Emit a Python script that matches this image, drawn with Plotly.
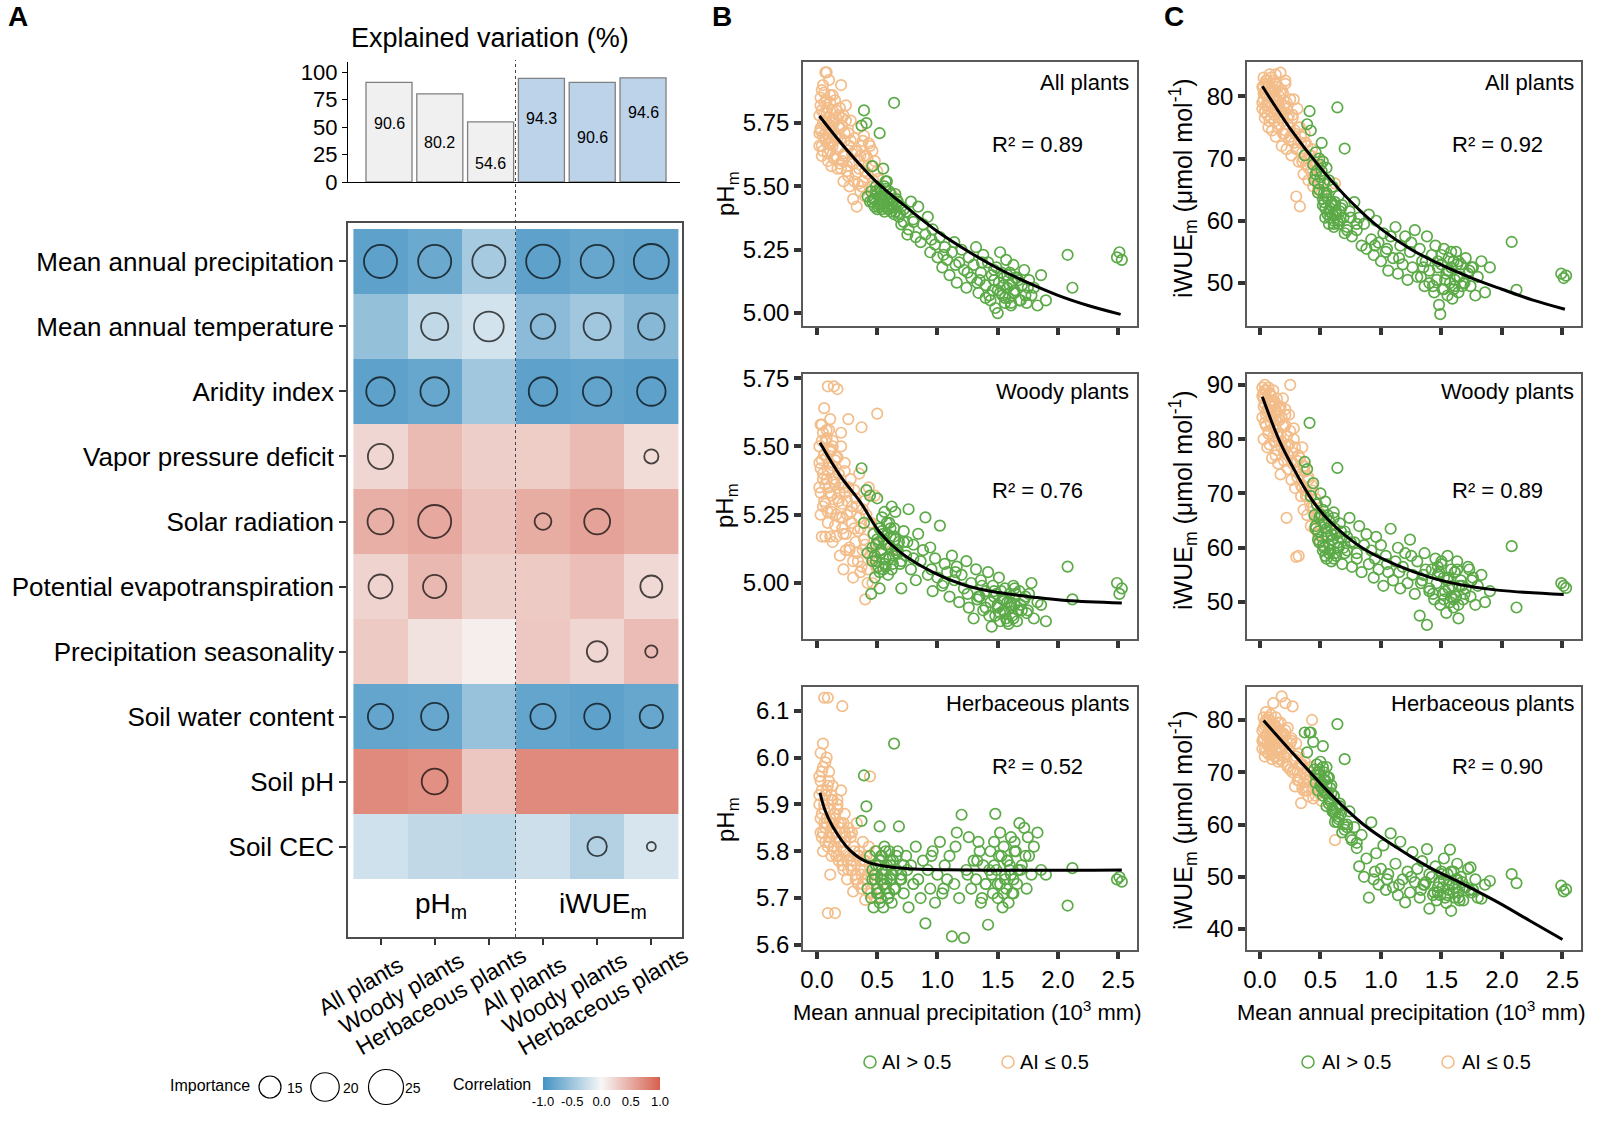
import plotly.graph_objects as go

W, H = 1600, 1121
FONT = "Liberation Sans, Arial, Helvetica, sans-serif"


def fx(p):
    return p / W


def fy(p):
    return 1 - p / H


# ======================= Panel A data =======================
group_labels = ["All plants", "Woody plants", "Herbaceous plants",
                "All plants", "Woody plants", "Herbaceous plants"]
explained_variation = [90.6, 80.2, 54.6, 94.3, 90.6, 94.6]
predictors = ["Mean annual precipitation", "Mean annual temperature", "Aridity index",
              "Vapor pressure deficit", "Solar radiation", "Potential evapotranspiration",
              "Precipitation seasonality", "Soil water content", "Soil pH", "Soil CEC"]
correlation = [
    [-0.85, -0.78, -0.45, -0.85, -0.80, -0.83],
    [-0.55, -0.30, -0.20, -0.60, -0.48, -0.62],
    [-0.85, -0.80, -0.48, -0.85, -0.83, -0.85],
    [0.22, 0.40, 0.27, 0.28, 0.40, 0.18],
    [0.48, 0.52, 0.34, 0.50, 0.56, 0.50],
    [0.24, 0.42, 0.26, 0.30, 0.37, 0.20],
    [0.30, 0.14, 0.06, 0.31, 0.22, 0.39],
    [-0.82, -0.80, -0.53, -0.82, -0.85, -0.80],
    [0.72, 0.68, 0.32, 0.72, 0.72, 0.72],
    [-0.22, -0.30, -0.32, -0.24, -0.38, -0.18],
]
importance = [
    [23.5, 23.5, 23.5, 24.0, 23.5, 25.0],
    [None, 19.0, 21.0, 17.0, 19.0, 18.5],
    [20.0, 20.0, None, 20.0, 20.0, 20.0],
    [17.5, None, None, None, None, 9.0],
    [18.0, 23.5, None, 11.0, 18.0, None],
    [16.5, 16.0, None, None, None, 15.0],
    [None, None, None, None, 14.0, 7.5],
    [17.5, 19.0, None, 17.5, 18.0, 16.0],
    [None, 18.0, None, None, None, None],
    [None, None, None, None, 13.0, 5.0],
]
importance_legend = [15, 20, 25]
corr_ticks = [-1.0, -0.5, 0.0, 0.5, 1.0]
corr_ticktext = ["-1.0", "-0.5", "0.0", "0.5", "1.0"]

# ======================= Panels B/C data =======================
# Mean annual precipitation (10^3 mm), sites with AI <= 0.5
orange_map = [
    0.02, 0.02, 0.03, 0.03, 0.04, 0.04, 0.05, 0.05, 0.06, 0.06,
    0.07, 0.07, 0.08, 0.08, 0.09, 0.09, 0.10, 0.10, 0.11, 0.11,
    0.12, 0.12, 0.13, 0.13, 0.14, 0.15, 0.15, 0.16, 0.17, 0.18,
    0.18, 0.19, 0.20, 0.21, 0.22, 0.22, 0.23, 0.24, 0.25, 0.26,
    0.27, 0.28, 0.29, 0.30, 0.31, 0.32, 0.33, 0.34, 0.35, 0.36,
    0.37, 0.38, 0.39, 0.40, 0.41, 0.42, 0.43, 0.44, 0.45, 0.46,
    0.47, 0.48, 0.49, 0.50, 0.51, 0.62,
    0.03, 0.04, 0.05, 0.06, 0.07, 0.08, 0.09, 0.10, 0.11, 0.12,
    0.13, 0.14, 0.16, 0.17, 0.19, 0.20, 0.21, 0.23, 0.24, 0.26,
    0.28, 0.30, 0.32, 0.34, 0.36, 0.38, 0.40, 0.42, 0.44, 0.46,
    0.02, 0.03, 0.04, 0.05, 0.06, 0.07, 0.08, 0.09, 0.10, 0.11,
    0.12, 0.13, 0.14, 0.15, 0.16, 0.17, 0.18, 0.19, 0.20, 0.21,
    0.22, 0.23, 0.25, 0.27, 0.29, 0.31, 0.33, 0.35, 0.37, 0.39]
# Mean annual precipitation (10^3 mm), sites with AI > 0.5
green_map = [
    0.37, 0.39, 0.41, 0.42, 0.44, 0.45, 0.46, 0.47, 0.48, 0.49,
    0.50, 0.51, 0.52, 0.52, 0.53, 0.54, 0.55, 0.55, 0.56, 0.57,
    0.58, 0.59, 0.60, 0.61, 0.62, 0.63, 0.64, 0.65, 0.66, 0.68,
    0.70, 0.72, 0.74, 0.76, 0.78, 0.80, 0.82, 0.84, 0.86, 0.88,
    0.90, 0.92, 0.94, 0.96, 0.98, 1.00, 1.02, 1.04, 1.06, 1.08,
    1.10, 1.12, 1.14, 1.16, 1.18, 1.20, 1.22, 1.24, 1.26, 1.28,
    1.30, 1.32, 1.34, 1.36, 1.38, 1.40, 1.42, 1.44, 1.45, 1.46,
    1.48, 1.49, 1.50, 1.51, 1.52, 1.54, 1.55, 1.56, 1.57, 1.58,
    1.59, 1.60, 1.61, 1.62, 1.63, 1.64, 1.66, 1.68, 1.70, 1.72,
    1.74, 1.76, 1.78, 1.80, 1.83, 1.86, 1.90, 2.08, 2.12, 2.49,
    2.51, 2.53,
    0.48, 0.50, 0.52, 0.53, 0.54, 0.56, 0.57, 0.58, 0.60, 0.61, 0.62, 0.64, 0.66, 0.70, 0.75,
    1.35, 1.40, 1.47, 1.52, 1.55, 1.58, 1.61, 1.64, 1.67, 1.73,
    0.46, 0.49, 0.51, 0.53, 0.55, 0.57, 0.59, 0.61, 0.63, 0.65, 0.67, 0.69, 0.72, 0.80,
    0.95, 1.05, 1.15, 1.25, 1.33, 1.37, 1.43, 1.47, 1.50, 1.53, 1.56, 1.60, 1.63, 1.65, 1.69, 1.75]

# pHm, all plants
ph_all_orange = [
    5.78, 5.66, 5.85, 5.72, 5.80, 5.62, 5.90, 5.70, 5.76, 5.83,
    5.95, 5.68, 5.74, 5.95, 5.60, 5.81, 5.69, 5.77, 5.64, 5.86,
    5.72, 5.58, 5.80, 5.66, 5.75, 5.62, 5.84, 5.70, 5.57, 5.78,
    5.65, 5.73, 5.90, 5.60, 5.78, 5.52, 5.68, 5.82, 5.58, 5.71,
    5.50, 5.76, 5.63, 5.45, 5.69, 5.55, 5.42, 5.73, 5.60, 5.48,
    5.66, 5.52, 5.70, 5.46, 5.62, 5.55, 5.67, 5.50, 5.58, 5.64,
    5.52, 5.60, 5.48, 5.56, 5.53, 5.47,
    5.73, 5.88, 5.64, 5.79, 5.71, 5.84, 5.67, 5.92, 5.74, 5.68,
    5.86, 5.61, 5.77, 5.69, 5.81, 5.57, 5.74, 5.63, 5.76, 5.54,
    5.68, 5.59, 5.64, 5.51, 5.62, 5.68, 5.56, 5.61, 5.66, 5.50,
    5.71, 5.82, 5.66, 5.75, 5.87, 5.69, 5.79, 5.63, 5.73, 5.83,
    5.67, 5.76, 5.61, 5.70, 5.80, 5.65, 5.74, 5.59, 5.69, 5.77,
    5.62, 5.71, 5.56, 5.66, 5.60, 5.52, 5.64, 5.57, 5.50, 5.62]
ph_all_green = [
    5.74, 5.80, 5.75, 5.46, 5.44, 5.48, 5.58, 5.45, 5.42, 5.50,
    5.47, 5.43, 5.71, 5.45, 5.48, 5.41, 5.57, 5.44, 5.50, 5.46,
    5.52, 5.42, 5.48, 5.45, 5.40, 5.44, 5.83, 5.47, 5.43, 5.38,
    5.42, 5.36, 5.40, 5.33, 5.44, 5.37, 5.30, 5.42, 5.28, 5.35,
    5.31, 5.38, 5.24, 5.33, 5.27, 5.22, 5.30, 5.18, 5.26, 5.21,
    5.15, 5.24, 5.28, 5.12, 5.20, 5.25, 5.17, 5.10, 5.22, 5.14,
    5.19, 5.26, 5.08, 5.16, 5.23, 5.11, 5.20, 5.05, 5.15, 5.09,
    5.02, 5.18, 5.00, 5.12, 5.24, 5.07, 5.14, 5.04, 5.21, 5.10,
    5.06, 5.16, 5.03, 5.12, 5.19, 5.08, 5.14, 5.05, 5.11, 5.17,
    5.04, 5.13, 5.07, 5.10, 5.03, 5.15, 5.05, 5.23, 5.10, 5.22,
    5.24, 5.21,
    5.45, 5.41, 5.49, 5.43, 5.46, 5.40, 5.52, 5.44, 5.41, 5.47, 5.43, 5.39, 5.45, 5.35, 5.31,
    5.13, 5.06, 5.17, 5.08, 5.11, 5.15, 5.04, 5.09, 5.13, 5.07,
    5.44, 5.48, 5.42, 5.46, 5.43, 5.49, 5.41, 5.45, 5.42, 5.40, 5.44, 5.39, 5.41, 5.36,
    5.29, 5.23, 5.19, 5.16, 5.12, 5.20, 5.07, 5.13, 5.09, 5.16, 5.06, 5.11, 5.08, 5.14, 5.05, 5.10]

# iWUEm, all plants
wue_all_orange = [
    81.5, 78.0, 83.0, 79.5, 80.5, 76.5, 82.5, 78.5, 80.0, 77.0,
    82.0, 75.0, 79.0, 83.5, 77.5, 81.0, 74.5, 80.5, 78.0, 82.5,
    76.0, 80.0, 83.5, 73.5, 79.0, 81.5, 75.0, 78.5, 83.8, 72.0,
    77.5, 80.5, 74.0, 82.0, 71.5, 78.0, 75.5, 73.0, 79.5, 70.5,
    76.5, 72.5, 74.5, 63.9, 78.0, 69.5, 62.3, 73.5, 71.0, 67.5,
    74.0, 69.0, 72.0, 66.5, 70.5, 68.0, 71.5, 65.5, 69.5, 67.0,
    70.0, 65.0, 68.5, 66.0, 64.5, 66.0,
    80.5, 77.5, 82.0, 79.0, 81.5, 76.0, 83.0, 78.5, 80.0, 77.0,
    81.0, 79.5, 76.5, 80.5, 74.0, 78.5, 82.5, 75.5, 77.0, 73.0,
    79.5, 71.5, 75.0, 72.5, 70.0, 72.5, 68.5, 70.5, 67.0, 69.0,
    79.0, 81.5, 77.5, 80.5, 82.5, 78.5, 80.0, 76.5, 81.0, 79.5,
    77.0, 82.0, 78.0, 75.5, 80.0, 77.5, 81.0, 76.0, 78.5, 74.5,
    79.0, 76.5, 73.5, 77.0, 74.0, 71.5, 75.0, 69.5, 72.5, 70.0]
wue_all_green = [
    70.5, 75.5, 77.6, 74.5, 69.0, 66.5, 71.0, 68.0, 64.5, 70.0,
    67.0, 72.5, 63.5, 69.5, 66.0, 62.0, 68.5, 64.0, 61.0, 66.5,
    60.5, 63.0, 65.5, 59.5, 62.5, 61.0, 78.2, 64.0, 60.0, 62.5,
    71.6, 59.0, 61.5, 57.5, 63.0, 58.5, 60.5, 56.0, 59.5, 55.5,
    61.0, 57.0, 54.5, 60.0, 56.5, 53.5, 58.0, 55.0, 52.0, 57.5,
    54.0, 59.0, 51.5, 56.0, 53.0, 57.5, 50.5, 55.0, 52.5, 58.5,
    51.0, 55.5, 53.5, 49.5, 57.5, 52.0, 54.5, 48.5, 56.0, 50.5,
    46.5, 45.0, 53.0, 49.0, 55.5, 51.5, 48.0, 54.0, 50.0, 52.5,
    47.5, 53.5, 49.5, 55.0, 51.0, 48.5, 53.0, 50.0, 54.0, 51.5,
    49.5, 52.5, 48.0, 51.0, 53.5, 48.5, 52.5, 56.6, 48.9, 51.5,
    50.8, 51.2,
    66.0, 69.0, 62.5, 64.5, 60.5, 63.5, 59.5, 62.0, 61.0, 59.0, 63.0, 60.0, 61.5, 58.0, 60.5,
    52.5, 50.0, 53.5, 49.0, 52.0, 55.0, 50.5, 53.5, 49.5, 52.0,
    67.5, 65.0, 68.0, 63.0, 64.5, 61.5, 62.5, 60.0, 61.5, 59.5, 62.0, 60.5, 58.5, 59.5,
    56.0, 55.5, 54.0, 56.5, 51.0, 53.5, 49.5, 52.5, 54.5, 50.5, 52.0, 49.0, 53.0, 51.0, 50.0, 52.5]

# pHm, woody plants
ph_woody_orange = [
    5.50, 5.35, 5.58, 5.25, 5.45, 5.17, 5.55, 5.40, 5.64, 5.30,
    5.52, 5.17, 5.46, 5.38, 5.72, 5.22, 5.56, 5.33, 5.48, 5.17,
    5.42, 5.27, 5.52, 5.15, 5.72, 5.36, 5.45, 5.17, 5.71, 5.30,
    5.40, 5.10, 5.50, 5.24, 5.35, 5.05, 5.44, 5.18, 5.30, 5.60,
    5.12, 5.38, 5.22, 5.02, 5.34, 5.15, 5.28, 5.08, 5.40, 5.20,
    5.57, 5.12, 5.30, 4.94, 5.25, 5.05, 5.35, 5.10, 5.22, 5.00,
    5.18, 5.32, 5.06, 5.62, 5.14, 5.12,
    5.42, 5.58, 5.28, 5.47, 5.36, 5.53, 5.26, 5.44, 5.60, 5.32,
    5.50, 5.38, 5.25, 5.46, 5.33, 5.55, 5.20, 5.41, 5.12, 5.35,
    5.26, 5.08, 5.31, 5.19, 5.04, 5.27, 5.14, 5.00, 5.22, 5.09,
    5.44, 5.33, 5.52, 5.38, 5.47, 5.29, 5.56, 5.41, 5.35, 5.49,
    5.26, 5.43, 5.37, 5.21, 5.46, 5.31, 5.40, 5.24, 5.36, 5.29,
    5.18, 5.33, 5.25, 5.13, 5.28, 5.20, 5.11, 5.24, 5.06, 5.16]
ph_woody_green = [
    5.42, 5.22, 5.34, 5.11, 5.32, 4.96, 5.08, 5.18, 5.02, 5.14,
    5.31, 5.06, 5.20, 4.98, 5.12, 5.24, 5.05, 5.16, 5.26, 5.09,
    5.18, 5.03, 5.22, 5.13, 5.28, 5.07, 5.17, 5.26, 5.11, 5.15,
    4.98, 5.19, 5.10, 5.27, 5.05, 5.14, 5.01, 5.18, 5.08, 5.12,
    5.24, 5.03, 5.13, 4.97, 5.09, 5.02, 5.21, 4.99, 5.07, 5.04,
    4.95, 5.10, 5.01, 5.06, 4.93, 5.03, 4.98, 5.08, 4.91, 5.00,
    4.87, 5.05, 4.95, 5.01, 4.90, 4.97, 5.04, 4.93, 4.84, 4.99,
    4.88, 4.96, 4.92, 5.02, 4.86, 4.94, 4.90, 4.98, 4.87, 4.93,
    4.85, 4.96, 4.91, 4.88, 4.99, 4.92, 4.86, 4.97, 4.90, 4.94,
    4.89, 4.96, 5.00, 4.87, 4.93, 4.92, 4.86, 5.06, 4.94, 5.00,
    4.96, 4.98,
    5.10, 5.16, 5.04, 5.12, 5.19, 5.07, 5.14, 5.22, 5.09, 5.17, 5.05, 5.20, 5.12, 5.08, 5.15,
    4.95, 4.91, 4.97, 4.89, 4.94, 4.86, 4.92, 4.98, 4.90, 4.95,
    5.13, 5.08, 5.15, 5.11, 5.18, 5.06, 5.14, 5.20, 5.10, 5.16, 5.12, 5.07, 5.15, 5.09,
    5.05, 5.00, 5.04, 4.96, 4.94, 4.99, 4.88, 4.95, 4.91, 4.97, 4.89, 4.93, 4.87, 4.96, 4.92, 4.90]

# iWUEm, woody plants
wue_woody_orange = [
    89.5, 84.0, 88.5, 80.0, 86.5, 90.0, 82.5, 89.0, 78.5, 85.5,
    89.5, 81.0, 87.0, 79.0, 84.5, 88.0, 76.5, 86.0, 82.0, 89.0,
    79.5, 85.0, 77.0, 83.5, 87.5, 75.5, 81.0, 86.0, 73.5, 84.0,
    78.5, 82.5, 76.0, 85.5, 65.5, 80.5, 74.5, 79.0, 90.0, 72.5,
    77.5, 82.0, 71.0, 58.3, 76.0, 58.5, 73.5, 69.5, 78.5, 67.0,
    75.0, 70.5, 66.0, 73.0, 68.5, 64.0, 71.5, 67.5, 63.5, 69.0,
    65.5, 62.5, 66.5, 61.0, 64.0, 63.0,
    87.5, 83.0, 89.0, 85.0, 81.5, 88.5, 84.0, 87.0, 80.5, 86.5,
    83.5, 78.0, 85.5, 81.0, 87.5, 77.5, 82.5, 79.0, 84.5, 76.0,
    80.0, 74.0, 77.0, 71.5, 75.0, 69.5, 72.5, 67.5, 70.5, 66.0,
    88.0, 86.0, 89.0, 84.5, 87.5, 85.5, 88.5, 83.0, 86.5, 84.0,
    87.0, 82.0, 85.0, 80.5, 83.5, 86.0, 79.5, 82.5, 78.0, 84.5,
    80.5, 77.0, 81.5, 75.5, 78.5, 73.0, 76.5, 71.0, 74.0, 69.5]
wue_woody_green = [
    75.8, 74.5, 83.0, 69.5, 71.9, 66.0, 63.5, 68.0, 61.5, 65.5,
    70.0, 62.0, 67.0, 59.5, 64.5, 68.5, 58.0, 63.0, 66.0, 60.5,
    64.0, 57.5, 61.5, 66.5, 59.0, 62.5, 74.7, 60.0, 64.5, 57.0,
    63.0, 59.5, 65.5, 56.5, 61.0, 58.0, 64.0, 55.5, 60.5, 62.5,
    57.0, 59.5, 54.5, 62.0, 56.0, 60.5, 53.0, 58.5, 55.5, 63.5,
    54.0, 57.5, 60.0, 52.5, 56.5, 59.0, 53.5, 61.5, 55.0, 51.5,
    57.5, 47.5, 54.0, 59.0, 45.8, 52.0, 56.0, 50.5, 58.0, 53.5,
    55.5, 49.5, 57.0, 51.5, 54.5, 48.0, 58.5, 52.5, 50.0, 56.0,
    53.0, 49.0, 55.5, 51.0, 57.5, 47.0, 54.0, 50.5, 52.5, 56.5,
    51.0, 54.5, 49.5, 53.0, 55.0, 50.0, 52.0, 60.3, 49.0, 53.5,
    53.0, 52.6,
    63.0, 66.0, 60.5, 64.5, 58.5, 62.0, 65.0, 59.5, 61.5, 58.0, 63.5, 60.0, 62.0, 59.0, 61.0,
    55.0, 52.5, 56.5, 50.5, 54.0, 51.0, 55.5, 49.5, 53.0, 56.0,
    64.0, 61.0, 66.0, 60.0, 63.5, 59.0, 62.5, 65.5, 58.5, 61.0, 63.0, 60.0, 62.0, 59.0,
    58.0, 57.0, 55.5, 58.5, 53.5, 56.0, 51.5, 55.0, 57.5, 52.0, 54.5, 50.5, 56.0, 53.0, 51.5, 54.0]

# pHm, herbaceous plants
ph_herb_orange = [
    5.90, 5.96, 5.84, 6.01, 5.88, 5.93, 5.80, 6.03, 5.86, 6.128,
    5.92, 5.82, 6.00, 5.87, 6.128, 5.668, 5.95, 5.83, 5.89, 5.75,
    5.91, 5.79, 5.86, 5.94, 5.81, 5.88, 5.668, 5.84, 5.90, 5.78,
    5.86, 5.82, 5.93, 6.11, 5.80, 5.76, 5.88, 5.83, 5.74, 5.85,
    5.79, 5.77, 5.84, 5.714, 5.81, 5.75, 5.86, 5.73, 5.80, 5.78,
    5.72, 5.82, 5.76, 5.696, 5.79, 5.74, 5.81, 5.96, 5.71, 5.77,
    5.73, 5.80, 5.70, 5.75, 5.72, 5.74,
    5.95, 5.83, 5.98, 5.89, 5.85, 5.93, 5.81, 5.97, 5.87, 5.92,
    5.84, 5.88, 5.79, 5.91, 5.82, 5.86, 5.78, 5.84, 5.80, 5.76,
    5.83, 5.78, 5.74, 5.79, 5.76, 5.73, 5.78, 5.75, 5.71, 5.76,
    5.92, 5.87, 5.97, 5.84, 5.90, 5.99, 5.86, 5.94, 5.82, 5.89,
    5.85, 5.91, 5.80, 5.87, 5.83, 5.89, 5.79, 5.85, 5.81, 5.77,
    5.86, 5.82, 5.78, 5.84, 5.76, 5.80, 5.74, 5.79, 5.75, 5.78]
ph_herb_green = [
    5.865, 5.962, 5.896, 5.72, 5.79, 5.70, 5.76, 5.68, 5.74, 5.80,
    5.71, 5.77, 5.853, 5.69, 5.74, 5.79, 5.68, 5.75, 5.81, 5.72,
    5.77, 5.70, 5.80, 5.74, 5.69, 5.78, 6.03, 5.72, 5.76, 5.853,
    5.75, 5.71, 5.79, 5.68, 5.77, 5.73, 5.81, 5.74, 5.70, 5.78,
    5.646, 5.76, 5.72, 5.80, 5.69, 5.75, 5.82, 5.71, 5.77, 5.74,
    5.79, 5.618, 5.73, 5.84, 5.70, 5.878, 5.615, 5.76, 5.83, 5.72,
    5.78, 5.74, 5.82, 5.69, 5.77, 5.73, 5.643, 5.80, 5.75, 5.71,
    5.88, 5.76, 5.70, 5.79, 5.73, 5.68, 5.81, 5.75, 5.72, 5.78,
    5.69, 5.76, 5.83, 5.71, 5.74, 5.80, 5.73, 5.86, 5.77, 5.85,
    5.72, 5.79, 5.75, 5.81, 5.84, 5.76, 5.75, 5.684, 5.764, 5.74,
    5.745, 5.735,
    5.75, 5.72, 5.78, 5.70, 5.76, 5.73, 5.80, 5.74, 5.71, 5.77, 5.75, 5.72, 5.79, 5.74, 5.76,
    5.80, 5.73, 5.77, 5.84, 5.71, 5.78, 5.75, 5.82, 5.76, 5.79,
    5.74, 5.77, 5.71, 5.79, 5.73, 5.76, 5.70, 5.78, 5.75, 5.72, 5.80, 5.74, 5.77, 5.73,
    5.79, 5.72, 5.81, 5.75, 5.78, 5.70, 5.76, 5.82, 5.73, 5.79, 5.74, 5.77, 5.71, 5.80, 5.76, 5.83]

# iWUEm, herbaceous plants
wue_herb_orange = [
    78.0, 74.5, 80.5, 76.0, 79.0, 73.0, 81.5, 77.0, 75.5, 79.5,
    73.5, 80.0, 76.5, 78.5, 74.0, 81.0, 72.5, 77.5, 83.2, 75.0,
    79.0, 73.0, 77.0, 80.5, 75.5, 78.0, 72.0, 76.5, 79.5, 84.5,
    74.5, 77.5, 73.0, 83.2, 76.0, 71.5, 78.5, 74.0, 70.5, 76.5,
    82.6, 72.5, 67.3, 75.5, 70.0, 73.5, 69.0, 64.1, 71.5, 68.0,
    72.0, 66.5, 70.5, 65.4, 68.5, 71.0, 80.0, 67.0, 69.5, 65.5,
    68.0, 70.0, 66.0, 67.5, 64.5, 57.0,
    76.5, 79.5, 74.0, 77.5, 80.5, 75.0, 78.0, 73.5, 79.0, 76.0,
    74.5, 78.5, 72.5, 77.0, 75.5, 73.0, 78.0, 71.0, 74.5, 76.0,
    70.5, 73.0, 68.5, 71.5, 66.5, 69.0, 67.0, 70.0, 65.0, 68.5,
    76.0, 78.5, 74.5, 80.0, 77.0, 75.0, 79.0, 76.5, 73.5, 78.0,
    75.5, 77.5, 73.0, 79.5, 76.0, 74.0, 77.5, 72.0, 75.0, 77.0,
    73.5, 71.0, 75.5, 70.0, 72.5, 68.5, 71.5, 67.0, 69.5, 66.5]
wue_herb_green = [
    77.6, 73.8, 77.6, 77.6, 75.8, 70.5, 68.0, 71.5, 66.5, 69.5,
    72.0, 67.0, 75.0, 65.5, 70.0, 68.5, 63.5, 71.0, 66.0, 69.0,
    64.5, 67.5, 62.5, 65.5, 60.5, 63.5, 79.2, 61.5, 64.0, 58.5,
    72.5, 60.0, 62.5, 57.0, 59.5, 55.5, 52.0, 58.0, 50.0, 53.5,
    46.0, 60.4, 49.5, 54.5, 48.5, 51.5, 56.0, 47.5, 50.5, 58.3,
    48.0, 52.5, 46.5, 56.7, 49.5, 45.1, 51.0, 47.0, 54.7, 49.0,
    51.5, 46.0, 53.0, 48.5, 55.3, 43.9, 50.0, 47.0, 52.0, 45.5,
    49.0, 46.5, 51.0, 48.0, 53.5, 45.0, 50.5, 47.5, 55.2, 43.5,
    48.5, 51.0, 46.0, 49.5, 52.5, 47.0, 50.0, 45.5, 48.0, 51.5,
    51.8, 47.5, 49.5, 46.0, 45.8, 48.5, 49.2, 50.5, 48.8, 48.3,
    47.2, 47.6,
    70.0, 67.5, 71.0, 68.5, 66.0, 69.0, 65.0, 67.0, 63.0, 65.5, 62.0, 60.5, 63.5, 59.0, 57.5,
    48.5, 50.5, 47.0, 49.5, 46.5, 51.0, 48.0, 46.0, 49.0, 47.5,
    69.5, 70.5, 68.0, 66.5, 67.5, 64.0, 66.0, 62.5, 63.0, 61.0, 62.0, 60.0, 59.5, 56.5,
    51.0, 49.5, 48.5, 50.0, 47.5, 49.0, 46.5, 48.0, 50.5, 46.0, 48.5, 47.0, 49.5, 45.5, 48.0, 47.0]

# Fitted curves
fit_ph_all_x = [0.02, 0.25, 0.5, 0.75, 1.0, 1.25, 1.5, 1.75, 2.0, 2.25, 2.52]
fit_ph_all_y = [5.778, 5.643, 5.515, 5.415, 5.322, 5.245, 5.177, 5.120, 5.070, 5.030, 4.995]
fit_wue_all_x = [0.02, 0.25, 0.5, 0.75, 1.0, 1.25, 1.5, 1.75, 2.0, 2.25, 2.52]
fit_wue_all_y = [81.6, 74.8, 68.5, 63.1, 58.7, 55.4, 52.9, 50.8, 49.0, 47.3, 45.8]
fit_ph_woody_x = [0.025, 0.19, 0.36, 0.52, 0.69, 0.96, 1.24, 1.52, 1.80, 2.07, 2.53]
fit_ph_woody_y = [5.513, 5.394, 5.296, 5.186, 5.113, 5.040, 4.990, 4.964, 4.948, 4.936, 4.927]
fit_wue_woody_x = [0.02, 0.165, 0.30, 0.44, 0.58, 0.85, 1.13, 1.40, 1.68, 1.96, 2.51]
fit_wue_woody_y = [87.8, 79.5, 73.7, 68.5, 64.8, 59.9, 56.8, 54.6, 53.1, 52.2, 51.4]
fit_ph_herb_x = [0.025, 0.066, 0.13, 0.27, 0.41, 0.69, 1.24, 2.53]
fit_ph_herb_y = [5.925, 5.888, 5.853, 5.803, 5.778, 5.764, 5.760, 5.760]
fit_wue_herb_x = [0.03, 0.30, 0.58, 0.85, 1.13, 1.40, 1.68, 1.96, 2.23, 2.50]
fit_wue_herb_y = [79.9, 72.9, 65.9, 60.1, 55.6, 51.8, 48.6, 45.2, 41.6, 38.0]

r2_values = [0.89, 0.92, 0.76, 0.89, 0.52, 0.90]
plant_groups = ["All plants", "Woody plants", "Herbaceous plants"]
map_ticks = [0.0, 0.5, 1.0, 1.5, 2.0, 2.5]

# ======================= Styles =======================
GREEN = "#5BAA47"
ORANGE = "#F3BD8A"
BAR_FILL = ["#F0F0F0", "#F0F0F0", "#F0F0F0", "#BDD3E9", "#BDD3E9", "#BDD3E9"]
BAR_LABEL_Y = [53.6, 36.0, 17.0, 58.0, 40.0, 63.0]
HEAT_SCALE = [[0.0, "#4393C3"], [0.5, "#F7F7F7"], [1.0, "#D6604D"]]
# rotated group-label placement (pixel offsets of the label centre from its tick)
GROUP_LABEL_DX = [-20, -33, -48, -20, -33, -48]
GROUP_LABEL_Y = [986, 993, 1001, 986, 993, 1001]
HEAT_TICK_PX = [380.5, 434.7, 488.8, 543.0, 597.2, 651.3]


def imp_px(v):
    return 22 + (v - 15) * 1.3


fig = go.Figure()

# ---- explained variation bars
fig.add_trace(go.Bar(
    x=list(range(6)), y=explained_variation, width=0.906,
    marker=dict(color=BAR_FILL, line=dict(color="#808080", width=1.3)),
    xaxis="x", yaxis="y", showlegend=False, hoverinfo="skip"))

# ---- heatmap
fig.add_trace(go.Heatmap(
    z=correlation, x=list(range(6)), y=list(range(10)), zmin=-1, zmax=1,
    colorscale=HEAT_SCALE, xaxis="x2", yaxis="y2", hoverinfo="skip",
    colorbar=dict(orientation="h", x=fx(601.5), xanchor="center", y=fy(1077), yanchor="top",
                  len=117, lenmode="pixels", thickness=13, thicknessmode="pixels",
                  xpad=0, ypad=0, outlinewidth=0, tickvals=corr_ticks, ticktext=corr_ticktext,
                  ticks="", tickfont=dict(size=13, family=FONT, color="black"))))

cx, cy, cs = [], [], []
for i, row in enumerate(importance):
    for j, v in enumerate(row):
        if v is not None:
            cx.append(j)
            cy.append(i)
            cs.append(imp_px(v))
fig.add_trace(go.Scatter(
    x=cx, y=cy, mode="markers", xaxis="x2", yaxis="y2", showlegend=False, hoverinfo="skip",
    marker=dict(symbol="circle-open", size=cs, color="black", line=dict(width=1.8))))

# ---- scatter panels
panels = [
    (3, ph_all_orange, ph_all_green, fit_ph_all_x, fit_ph_all_y),
    (4, wue_all_orange, wue_all_green, fit_wue_all_x, fit_wue_all_y),
    (5, ph_woody_orange, ph_woody_green, fit_ph_woody_x, fit_ph_woody_y),
    (6, wue_woody_orange, wue_woody_green, fit_wue_woody_x, fit_wue_woody_y),
    (7, ph_herb_orange, ph_herb_green, fit_ph_herb_x, fit_ph_herb_y),
    (8, wue_herb_orange, wue_herb_green, fit_wue_herb_x, fit_wue_herb_y),
]
for k, oy, gy, fxs, fys in panels:
    xa, ya = "x%d" % k, "y%d" % k
    fig.add_trace(go.Scatter(x=orange_map, y=oy, mode="markers", xaxis=xa, yaxis=ya,
                             showlegend=False, hoverinfo="skip",
                             marker=dict(symbol="circle-open", size=10.5, color=ORANGE,
                                         line=dict(width=1.7))))
    fig.add_trace(go.Scatter(x=green_map, y=gy, mode="markers", xaxis=xa, yaxis=ya,
                             showlegend=False, hoverinfo="skip",
                             marker=dict(symbol="circle-open", size=10.5, color=GREEN,
                                         line=dict(width=1.7))))
    fig.add_trace(go.Scatter(x=fxs, y=fys, mode="lines", xaxis=xa, yaxis=ya,
                             showlegend=False, hoverinfo="skip",
                             line=dict(color="black", width=3, shape="spline")))

# ======================= Layout =======================
layout = dict(
    template="none",
    width=W, height=H, autosize=False,
    margin=dict(l=0, r=0, t=0, b=0, pad=0, autoexpand=False),
    paper_bgcolor="white", plot_bgcolor="white",
    font=dict(family=FONT, color="black"),
    showlegend=False,
)

layout["xaxis"] = dict(domain=[fx(348), fx(680)], range=[-0.807, 5.728], anchor="y",
                       showline=True, linecolor="black", linewidth=1.2, ticks="",
                       showticklabels=False, showgrid=False, zeroline=False, automargin=False)
layout["yaxis"] = dict(domain=[fy(182), fy(62)], range=[0, 109.1], anchor="x",
                       tickvals=[0, 25, 50, 75, 100], ticks="outside", ticklen=5, tickwidth=1.2,
                       tickcolor="black", showline=True, linecolor="black", linewidth=1.2,
                       tickfont=dict(size=22), showgrid=False, zeroline=False, automargin=False)

layout["xaxis2"] = dict(domain=[fx(348), fx(682)], range=[-0.6, 5.566], anchor="y2",
                        tickvals=list(range(6)), showticklabels=False,
                        ticks="outside", ticklen=6, tickwidth=1.5, tickcolor="#333333",
                        showline=True, mirror=True, linecolor="#4D4D4D", linewidth=1.5,
                        showgrid=False, zeroline=False, automargin=False)
layout["yaxis2"] = dict(domain=[fy(937), fy(223)], range=[10.392, -0.592], anchor="x2",
                        tickvals=list(range(10)), ticktext=predictors,
                        ticks="outside", ticklen=7, tickwidth=1.5, tickcolor="#333333",
                        showline=True, mirror=True, linecolor="#4D4D4D", linewidth=1.5,
                        tickfont=dict(size=26), showgrid=False, zeroline=False, automargin=False)

row_dom = [(62, 326), (374, 639), (687, 950)]
col_dom = [(803, 1137), (1247, 1581)]
x_ranges = [[-0.116, 2.656], [-0.107, 2.653]]
y_specs = {
    3: dict(range=[4.949, 5.991], tickvals=[5.0, 5.25, 5.5, 5.75], tickformat=".2f"),
    4: dict(range=[43.1, 85.5], tickvals=[50, 60, 70, 80], tickformat="d"),
    5: dict(range=[4.795, 5.765], tickvals=[5.0, 5.25, 5.5, 5.75], tickformat=".2f"),
    6: dict(range=[43.2, 92.0], tickvals=[50, 60, 70, 80, 90], tickformat="d"),
    7: dict(range=[5.589, 6.151], tickvals=[5.6, 5.7, 5.8, 5.9, 6.0, 6.1], tickformat=".1f"),
    8: dict(range=[36.0, 86.3], tickvals=[40, 50, 60, 70, 80], tickformat="d"),
}
for k in range(3, 9):
    r = (k - 3) // 2
    c = (k - 3) % 2
    top, bot = row_dom[r]
    left, right = col_dom[c]
    common = dict(showline=True, mirror=True, linecolor="#5A5A5A", linewidth=1.5,
                  ticks="outside", ticklen=7, tickwidth=3.5, tickcolor="#333333",
                  showgrid=False, zeroline=False, tickfont=dict(size=24), automargin=False)
    layout["xaxis%d" % k] = dict(domain=[fx(left), fx(right)], range=x_ranges[c],
                                 anchor="y%d" % k, tickvals=map_ticks, tickformat=".1f",
                                 showticklabels=(r == 2), **common)
    layout["yaxis%d" % k] = dict(domain=[fy(bot), fy(top)], anchor="x%d" % k,
                                 **y_specs[k], **common)

annotations = []


def ann(x, y, text, size, xanchor="center", yanchor="middle", **kw):
    d = dict(x=fx(x), y=fy(y), xref="paper", yref="paper", text=text, showarrow=False,
             xanchor=xanchor, yanchor=yanchor, font=dict(size=size, family=FONT, color="black"))
    d.update(kw)
    annotations.append(d)


# panel letters and title
ann(6, 17, "<b>A</b>", 28, xanchor="left")
ann(722, 17, "<b>B</b>", 28)
ann(1174, 17, "<b>C</b>", 28)
ann(490, 38, "Explained variation (%)", 27)

# bar value labels
for j, v in enumerate(explained_variation):
    annotations.append(dict(x=j, y=BAR_LABEL_Y[j], xref="x", yref="y", text="%.1f" % v,
                            showarrow=False, font=dict(size=16, family=FONT, color="black")))

# rotated group labels under the heat map
for j, lab in enumerate(group_labels):
    ann(HEAT_TICK_PX[j] + GROUP_LABEL_DX[j], GROUP_LABEL_Y[j], lab, 23, textangle=-30)

# response labels inside heat map box
ann(441, 905, "pH<sub>m</sub>", 28)
ann(603, 905, "iWUE<sub>m</sub>", 28)

# importance legend
ann(252, 1085, "Importance", 16, xanchor="right")
leg_cx = [270, 325, 386]
leg_tx = [285, 341, 403]
shapes = []
for v, c0, t0 in zip(importance_legend, leg_cx, leg_tx):
    d = imp_px(v)
    shapes.append(dict(type="circle", xref="paper", yref="paper",
                       x0=fx(c0 - d / 2), x1=fx(c0 + d / 2), y0=fy(1087 + d / 2), y1=fy(1087 - d / 2),
                       line=dict(color="black", width=1.2)))
    ann(t0, 1088, str(v), 14, xanchor="left")
ann(533, 1084, "Correlation", 16, xanchor="right")

# dashed separator
shapes.append(dict(type="line", xref="paper", yref="paper", x0=fx(515.5), x1=fx(515.5),
                   y0=fy(937), y1=fy(60), line=dict(color="#444444", width=1, dash="dot")))

# scatter panel texts
row_label_y = [83, 391, 703]
r2_y = [144, 490, 766]
ytitle_y_B = [194, 506, 820]
ytitle_y_C = [188, 500, 820]
for r in range(3):
    ann(1131, row_label_y[r], plant_groups[r], 22, xanchor="right")
    ann(1576, row_label_y[r], plant_groups[r], 22, xanchor="right")
    ann(1037, r2_y[r], "R² = %.2f" % r2_values[2 * r], 22)
    ann(1497, r2_y[r], "R² = %.2f" % r2_values[2 * r + 1], 22)
    ann(727, ytitle_y_B[r], "pH<sub>m</sub>", 24, textangle=-90)
    ann(1183, ytitle_y_C[r], "iWUE<sub>m</sub> (μmol mol<sup>-1</sup>)", 25, textangle=-90)

ann(967, 1011, "Mean annual precipitation (10<sup>3</sup> mm)", 22)
ann(1411, 1011, "Mean annual precipitation (10<sup>3</sup> mm)", 22)

# AI legends
for gx, ox, gtx, otx in [(870, 1008, 880, 1018), (1308, 1448, 1320, 1460)]:
    for cxp, col in [(gx, GREEN), (ox, ORANGE)]:
        shapes.append(dict(type="circle", xref="paper", yref="paper",
                           x0=fx(cxp - 6), x1=fx(cxp + 6), y0=fy(1068), y1=fy(1056),
                           line=dict(color=col, width=1.6)))
    ann(gtx, 1062, "AI > 0.5", 20, xanchor="left")
    ann(otx, 1062, "AI ≤ 0.5", 20, xanchor="left")

layout["annotations"] = annotations
layout["shapes"] = shapes
fig.update_layout(**layout)

fig.write_html("out.html")
